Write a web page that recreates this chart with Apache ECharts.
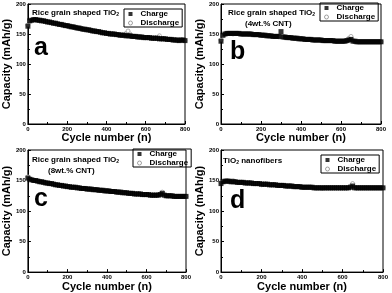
<!DOCTYPE html>
<html><head><meta charset="utf-8">
<script src="https://cdn.jsdelivr.net/npm/echarts@6/dist/echarts.min.js"></script>
<style>html,body{margin:0;padding:0;background:#fff}#c{width:392px;height:293px}</style>
</head><body><div id="c"></div>
<script>
const cycles = [0,10,20,30,40,50,60,70,80,90,100,110,120,130,140,150,160,170,180,190,200,210,220,230,240,250,260,270,280,290,300,310,320,330,340,350,360,370,380,390,400,410,420,430,440,450,460,470,480,490,500,510,520,530,540,550,560,570,580,590,600,610,620,630,640,650,660,670,680,690,700,710,720,730,740,750,760,770,780,790,800];

const chargeA = [163,172,173,174,174,173,173,172,172,171,170,170,169,168,168,167,166,166,165,164,164,163,162,162,161,160,160,159,158,158,157,157,156,155,155,154,154,153,152,152,151,151,150,150,150,149,149,148,148,148,147,147,147,146,146,146,145,145,145,144,144,144,144,143,143,143,143,142,142,142,142,141,141,141,140,140,140,139,140,140,139];
const dischargeA = [165,171,173,173,174,173,172,172,171,171,170,169,169,168,167,167,166,165,165,164,163,163,162,161,161,160,159,159,158,158,157,156,156,155,155,154,153,153,152,152,151,150,150,150,149,149,148,148,148,147,151,155,150,146,146,145,145,145,144,144,144,144,143,143,143,143,142,147,142,142,141,141,141,140,140,140,139,140,140,139,139];

const chargeB = [138,148,150,151,151,151,151,151,151,151,150,150,150,150,150,150,149,149,149,149,148,148,148,147,147,147,146,146,146,146,154,145,145,144,144,144,143,143,143,142,142,142,141,141,141,141,140,140,140,140,140,139,139,139,139,139,139,138,138,138,138,138,138,139,140,141,138,138,137,137,137,137,137,137,137,137,137,137,137,137,137];
const dischargeB = [140,147,150,151,151,151,150,151,151,150,150,150,150,150,149,150,149,149,149,148,148,148,147,147,147,146,146,146,146,145,146,145,144,144,144,143,143,143,142,142,142,141,141,141,141,140,140,140,140,140,139,139,139,139,139,139,138,138,138,138,138,138,139,140,143,146,139,137,137,137,137,137,137,137,137,137,137,137,137,137,137];

const chargeC = [154,152,151,150,150,149,148,148,147,146,146,145,145,144,143,143,142,142,141,141,140,140,139,139,139,138,138,137,137,137,136,136,136,135,135,135,134,134,134,133,133,133,132,132,132,131,131,131,130,130,130,129,129,129,128,128,128,128,127,127,127,127,126,126,126,126,126,127,129,126,125,125,125,125,124,124,124,124,124,124,124];
const dischargeC = [156,153,151,150,149,149,148,147,147,146,145,145,144,144,143,142,142,141,141,140,140,139,139,139,138,138,138,137,137,136,136,136,135,135,135,134,134,134,133,133,133,132,132,132,131,131,131,130,130,130,129,129,129,128,128,128,128,127,127,127,127,126,126,126,126,126,127,128,131,127,125,125,125,124,124,124,124,124,124,124,124];

const chargeD = [145,148,149,149,149,148,148,148,147,147,147,147,146,146,146,146,145,145,145,145,144,144,144,144,143,143,143,143,142,142,142,142,141,141,141,141,140,140,140,140,139,139,139,139,139,139,138,138,138,138,138,138,138,138,138,138,138,138,138,138,138,138,138,138,139,141,138,138,138,138,138,138,138,138,138,138,138,138,138,138,138];
const dischargeD = [147,148,149,149,148,148,150,148,147,147,147,146,146,146,146,145,145,145,145,144,143,144,144,143,143,143,143,142,142,142,142,141,141,141,141,140,140,140,140,139,139,139,139,139,139,138,138,138,138,138,137,138,138,138,138,138,138,138,138,138,138,138,138,139,141,145,139,138,138,138,138,138,138,138,138,138,138,138,138,138,138];

const xTicks = [0, 800, 200];   // min, max, interval
const yTicks = [0, 200, 50];
const panelLetters = ['a', 'b', 'c', 'd'];
const seriesNames = ['Charge', 'Discharge'];
const xName = 'Cycle number (n)';
const yName = 'Capacity (mAh/g)';

const chargeSets = [chargeA, chargeB, chargeC, chargeD];
const dischargeSets = [dischargeA, dischargeB, dischargeC, dischargeD];

const grids = [
  {left: 25, top: 4, width: 160, height: 120},
  {left: 221, top: 4, width: 160, height: 120},
  {left: 25, top: 150, width: 161, height: 123},
  {left: 221, top: 150, width: 162, height: 123}
];
const FONT = '"Liberation Sans", Arial, sans-serif';

const xAxes = grids.map((g, i) => ({
  gridIndex: i, type: 'value', min: xTicks[0], max: xTicks[1], interval: xTicks[2],
  name: xName, nameLocation: 'middle', nameGap: 8,
  nameTextStyle: {fontFamily: FONT, fontWeight: 'bold', fontSize: 11, color: '#000'},
  axisLine: {lineStyle: {color: '#000', width: 1}},
  axisTick: {inside: true, length: 3, lineStyle: {color: '#000'}},
  minorTick: {show: true, splitNumber: 2, length: 2, lineStyle: {color: '#000'}},
  axisLabel: {fontFamily: FONT, fontWeight: 'bold', fontSize: 6, color: '#000', margin: 2},
  splitLine: {show: false}
}));
const yAxes = grids.map((g, i) => ({
  gridIndex: i, type: 'value', min: yTicks[0], max: yTicks[1], interval: yTicks[2],
  name: yName, nameLocation: 'middle', nameGap: 12,
  nameTextStyle: {fontFamily: FONT, fontWeight: 'bold', fontSize: 11, color: '#000'},
  axisLine: {lineStyle: {color: '#000', width: 1}},
  axisTick: {inside: true, length: 3, lineStyle: {color: '#000'}},
  minorTick: {show: true, splitNumber: 2, length: 2, lineStyle: {color: '#000'}},
  axisLabel: {fontFamily: FONT, fontWeight: 'bold', fontSize: 6, color: '#000', margin: 2},
  splitLine: {show: false}
}));

const series = [];
for (let i = 0; i < 4; i++) {
  series.push({
    name: seriesNames[1], type: 'scatter', xAxisIndex: i, yAxisIndex: i, z: 2,
    symbol: 'circle', symbolSize: 4,
    itemStyle: {color: '#fff', borderColor: '#8a8a8a', borderWidth: 0.8},
    data: cycles.map((c, k) => [c, dischargeSets[i][k]])
  });
  series.push({
    name: seriesNames[0], type: 'scatter', xAxisIndex: i, yAxisIndex: i, z: 3,
    symbol: 'rect', symbolSize: 5,
    itemStyle: {color: '#000'},
    data: cycles.map((c, k) => [c, chargeSets[i][k]])
  });
}

const legendPos = [
  {left: 124, top: 9}, {left: 320, top: 3}, {left: 133, top: 149}, {left: 321, top: 155}
];
const legends = legendPos.map(p => ({
  left: p.left, top: p.top, orient: 'vertical',
  borderColor: '#000', borderWidth: 1, borderRadius: 0, padding: [1, 3, 0, 4],
  itemWidth: 4, itemHeight: 4, itemGap: 1,
  textStyle: {fontFamily: FONT, fontWeight: 'bold', fontSize: 8, color: '#000', padding: [0, 0, 0, 3]},
  data: [
    {name: seriesNames[0], icon: 'rect', itemStyle: {color: '#000'}},
    {name: seriesNames[1], icon: 'circle', itemStyle: {color: '#fff', borderColor: '#8a8a8a', borderWidth: 1}}
  ],
  selectedMode: false
}));

const rich = {
  t: {fontFamily: FONT, fontWeight: 'bold', fontSize: 8, fill: '#000'},
  s: {fontFamily: FONT, fontWeight: 'bold', fontSize: 5, fill: '#000', verticalAlign: 'bottom', padding: [4, 0, 0, 0]}
};
function txt(x, y, text, opts) {
  return {type: 'text', left: x, top: y, z: 10,
    style: Object.assign({text: text, fontFamily: FONT, fontWeight: 'bold', fill: '#000'}, opts || {})};
}
const graphics = [
  txt(32, 9, '{t|Rice grain shaped TiO}{s|2}', {rich: rich}),
  txt(228, 9, '{t|Rice grain shaped TiO}{s|2}', {rich: rich}),
  txt(245, 20, '(4wt.% CNT)', {fontSize: 8}),
  txt(32, 156, '{t|Rice grain shaped TiO}{s|2}', {rich: rich}),
  txt(48, 167, '(8wt.% CNT)', {fontSize: 8}),
  txt(223, 157, '{t|TiO}{s|2}{t| nanofibers}', {rich: rich}),
  txt(34, 36, panelLetters[0], {fontSize: 25}),
  txt(230, 40, panelLetters[1], {fontSize: 25}),
  txt(34, 187, panelLetters[2], {fontSize: 25}),
  txt(230, 189, panelLetters[3], {fontSize: 25})
];

const chart = echarts.init(document.getElementById('c'), null, {renderer: 'canvas'});
chart.setOption({
  animation: false,
  backgroundColor: '#fff',
  grid: grids.map(g => Object.assign({show: true, borderColor: '#000', borderWidth: 1, backgroundColor: 'transparent'}, g)),
  xAxis: xAxes, yAxis: yAxes,
  legend: legends,
  series: series,
  graphic: graphics
});
</script></body></html>
